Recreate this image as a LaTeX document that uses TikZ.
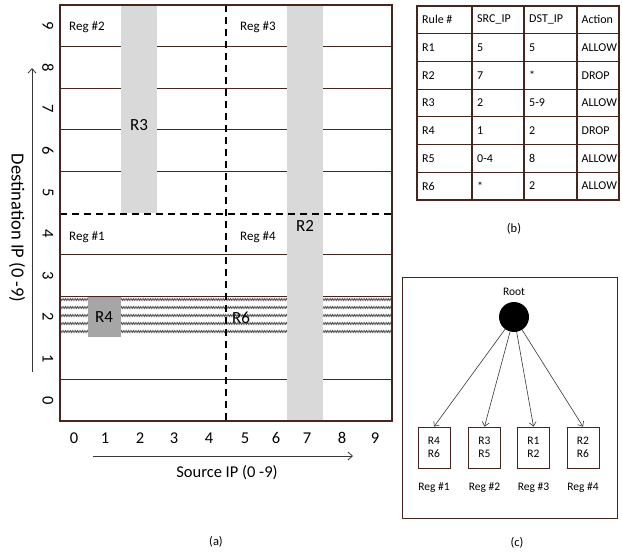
\documentclass[tikz,border=0pt]{standalone}
\usepackage{fontspec}
\setmainfont{Carlito}
\usetikzlibrary{arrows.meta,decorations.pathmorphing}
\definecolor{gridln}{RGB}{72,38,30}
\definecolor{bandgray}{RGB}{217,217,217}
\definecolor{boxgray}{RGB}{166,166,166}
\definecolor{arrowln}{RGB}{55,55,55}
\tikzset{
  fs/.style={font=\fontsize{#1}{#1}\selectfont},
  gridline/.style={draw=gridln, line width=1.1pt},
  splitline/.style={draw=black, line width=1.8pt, dash pattern=on 7pt off 5pt},
  reglabel/.style={fs=13, anchor=west, inner sep=0pt},
  rulelabel/.style={fs=17, inner sep=0pt},
  axisnum/.style={fs=16.5, inner sep=0pt},
  hatchrow/.style={draw=black!70, line width=0.5pt, decorate,
    decoration={zigzag, amplitude=1.2pt, segment length=1.7pt}},
  cell/.style={fs=12, anchor=west, inner sep=0pt},
  leafbox/.style={draw=gridln, line width=0.8pt, minimum width=32pt,
    minimum height=41pt, inner sep=0pt, align=left, fs=11.5},
  caption/.style={fs=12.5, inner sep=0pt},
  treearrow/.style={draw=arrowln, line width=0.6pt,
    -{Straight Barb[length=4pt,width=7pt]}},
  axisarrow/.style={draw=arrowln, line width=0.8pt,
    -{Straight Barb[length=4.5pt,width=8pt]}}
}
\begin{document}
\begin{tikzpicture}[x=1pt,y=-1pt]
\useasboundingbox (0,0) rectangle (622,554);

% ---------- (a) address space ----------
% row boundaries
\foreach \k in {1,2,3,4,6,7,9}
  \draw[gridline] (60,{5+41.6*\k}) -- (392,{5+41.6*\k});

% hatched band of rule R6 (destination 2)
\foreach \yy in {299.5,307.5,315.5,323.5,331.5}
  \draw[hatchrow] (60,\yy) -- (392,\yy);

% rule columns
\fill[bandgray] (121,5) rectangle (157,213);
\fill[bandgray] (287,5) rectangle (323,421);
% rule R4 cell
\fill[boxgray] (88,297) rectangle (121,337);

% region split lines
\draw[splitline] (226,5) -- (226,421);
\draw[splitline] (60,214) -- (392,214);

% outer frame
\draw[gridline] (60,5) rectangle (392,421);

% region and rule labels
\node[reglabel] (reg2) at (69,27) {Reg \#2};
\node[reglabel] (reg3) at (240,27) {Reg \#3};
\node[reglabel] (reg1) at (69,237) {Reg \#1};
\node[reglabel] (reg4) at (240,237) {Reg \#4};
\node[rulelabel] (r3) at (139,125) {R3};
\node[rulelabel] (r2) at (305,226) {R2};
\node[rulelabel] (r6) at (241,318) {R6};
\node[rulelabel] (r4) at (104,317) {R4};

% destination axis
\foreach \d in {0,...,9}
  \node[axisnum, rotate=-90] (dy\d) at (48,{400.2-41.6*\d}) {\d};
\coordinate (ybot) at (32,372);
\coordinate (ytop) at (32,68);
\draw[axisarrow] (ybot) -- (ytop);
\node[fs=18.5, rotate=-90, inner sep=0pt] (ylab) at (17,228) {Destination IP (0 -9)};

% source axis
\foreach \s/\xx in {0/74,1/105,2/140,3/174,4/209,5/245,6/276,7/307,8/342,9/375}
  \node[axisnum] (sx\s) at (\xx,438) {\s};
\coordinate (xl) at (93,456);
\coordinate (xr) at (353,456);
\draw[axisarrow] (xl) -- (xr);
\node[fs=16.5, inner sep=0pt] (xlab) at (227,473) {Source IP (0 -9)};
\node[caption] (capa) at (216,542) {(a)};

% ---------- (b) rule table ----------
\foreach \r/\a/\b/\c/\d in {0/Rule \#/SRC\_IP/DST\_IP/Action,
    1/R1/5/5/ALLOW, 2/R2/7/*/DROP, 3/R3/2/5-9/ALLOW,
    4/R4/1/2/DROP, 5/R5/0-4/8/ALLOW, 6/R6/*/2/ALLOW}{
  \node[cell] (ta\r) at (422,{19.85+27.7*\r}) {\a};
  \node[cell] (tb\r) at (477,{19.85+27.7*\r}) {\b};
  \node[cell] (tc\r) at (529,{19.85+27.7*\r}) {\c};
  \node[cell] (td\r) at (581.5,{19.85+27.7*\r}) {\d};
}
\foreach \k in {1,...,6}
  \draw[gridline] (417,{6+27.7*\k}) -- (619,{6+27.7*\k});
\foreach \xx in {472,524,577}
  \draw[gridline] (\xx,6) -- (\xx,200);
\draw[gridline] (417,6) rectangle (619,200);
\node[caption] (capb) at (514,229) {(b)};

% ---------- (c) region tree ----------
\draw[draw=gridln, line width=1pt] (402,277) rectangle (617,518);
\node[circle, fill=black, minimum size=30pt, inner sep=0pt] (root) at (514,317) {};
\node[fs=11.5, inner sep=0pt] (rootlab) at (514,292) {Root};
\node[leafbox] (leaf1) at (434,447.5) {R4\\[2pt]R6};
\node[leafbox] (leaf2) at (484.5,447.5) {R3\\[2pt]R5};
\node[leafbox] (leaf3) at (533.5,447.5) {R1\\[2pt]R2};
\node[leafbox] (leaf4) at (583,447.5) {R2\\[2pt]R6};
\foreach \i in {1,...,4}{
  \draw[treearrow] (root) -- (leaf\i.north);
  \node[fs=11.5, inner sep=0pt] (leaflab\i) at ([yshift=-40pt]leaf\i.center) {Reg \#\i};
}
\node[caption] (capc) at (517,543) {(c)};
\end{tikzpicture}
\end{document}
